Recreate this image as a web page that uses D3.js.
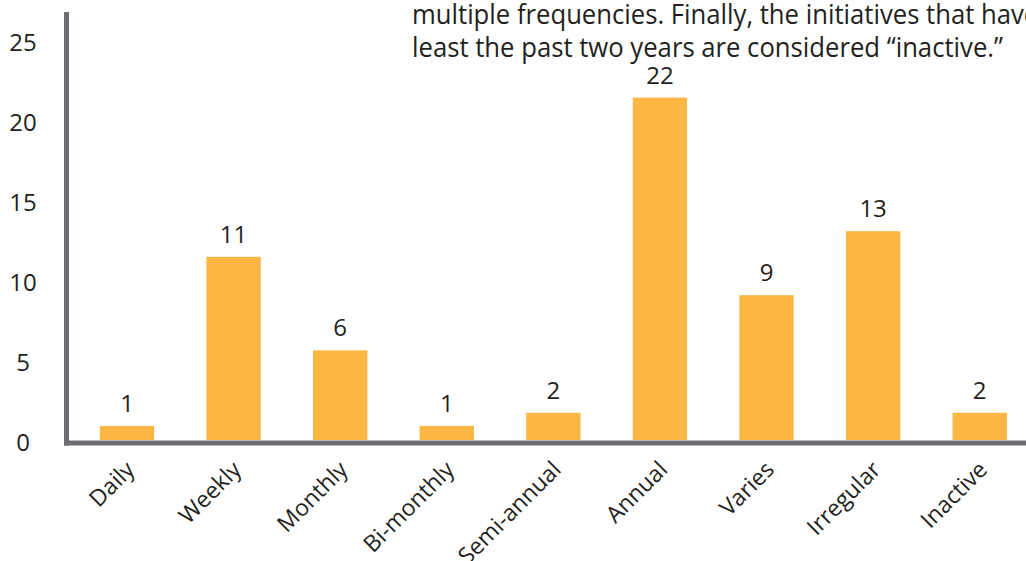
<!DOCTYPE html>
<html>
<head>
<meta charset="utf-8">
<title>Initiative frequency</title>
<script src="https://d3js.org/d3.v7.min.js"></script>
<style>
  body { margin: 0; background: #fff; }
  svg text { font-family: "Open Sans", sans-serif; fill: #231f20; }
</style>
</head>
<body>
<svg id="chart" width="1026" height="561"></svg>
<script>
// categories along the bottom
var categories = ["Daily", "Weekly", "Monthly", "Bi-monthly", "Semi-annual", "Annual", "Varies", "Irregular", "Inactive"];
// numbers printed above each bar
var counts = [1, 11, 6, 1, 2, 22, 9, 13, 2];
// bar heights as they are drawn against the axis
var barHeights = [0.88, 11.45, 5.6, 0.88, 1.7, 21.4, 9.05, 13.05, 1.7];
// y tick labels
var yTicks = [0, 5, 10, 15, 20, 25];
// text fragment at top right
var noteLines = [
  "multiple frequencies. Finally, the initiatives that have",
  "least the past two years are considered \u201cinactive.\u201d"
];

var svg = d3.select("#chart");

var x = d3.scaleBand()
    .domain(categories)
    .range([73.7, 1033])
    .paddingInner(0.49)
    .paddingOuter(0.245);

var y = d3.scaleLinear()
    .domain([0, 25])
    .range([440, 40]);

// bars
svg.selectAll("rect.bar")
    .data(categories)
    .enter()
    .append("rect")
        .attr("class", "bar")
        .attr("x", function(d) { return x(d); })
        .attr("width", x.bandwidth())
        .attr("y", function(d, i) { return y(barHeights[i]); })
        .attr("height", function(d, i) { return y(0) - y(barHeights[i]); })
        .attr("fill", "#fbb643");

// value labels
svg.selectAll("text.val")
    .data(categories)
    .enter()
    .append("text")
        .attr("class", "val")
        .attr("x", function(d) { return x(d) + x.bandwidth() / 2; })
        .attr("y", function(d, i) { return y(barHeights[i]) - 14; })
        .attr("text-anchor", "middle")
        .style("font-size", "24px")
        .text(function(d, i) { return counts[i]; });

// y tick labels
var yAxis = d3.axisLeft(y).tickValues(yTicks).tickSize(0).tickPadding(0);
var gy = svg.append("g").attr("transform", "translate(23,0)").call(yAxis);
gy.select(".domain").remove();
gy.selectAll("text")
    .attr("text-anchor", "middle")
    .attr("dy", "10px")
    .attr("fill", "#231f20")
    .style("font-family", "Open Sans, sans-serif")
    .style("font-size", "24px");

// category labels, rotated
var xAxis = d3.axisBottom(x).tickSize(0).tickPadding(0);
var gx = svg.append("g").call(xAxis);
gx.select(".domain").remove();
gx.selectAll(".tick text")
    .attr("text-anchor", "end")
    .attr("dy", 0)
    .attr("y", 0)
    .attr("transform", "translate(9,471) rotate(-45)")
    .attr("fill", "#231f20")
    .style("font-family", "Open Sans, sans-serif")
    .style("font-size", "23px");

// axis lines
svg.append("line")
    .attr("x1", 66.5).attr("x2", 66.5)
    .attr("y1", 12).attr("y2", 445.5)
    .attr("stroke", "#6d6e71").attr("stroke-width", 5);
svg.append("line")
    .attr("x1", 64).attr("x2", 1026)
    .attr("y1", 443).attr("y2", 443)
    .attr("stroke", "#6d6e71").attr("stroke-width", 5);

// note text, squeezed a little so the second line ends where it does in the original
var note = svg.append("g");
var noteText = note.selectAll("text.note")
    .data(noteLines)
    .enter()
    .append("text")
        .attr("class", "note")
        .attr("x", 0)
        .attr("y", function(d, i) { return 24 + i * 33.5; })
        .style("font-size", "28px")
        .text(function(d) { return d; });
var squeeze = 591 / noteText.nodes()[1].getComputedTextLength();
note.attr("transform", "translate(412,0) scale(" + squeeze + ",1)");
</script>
</body>
</html>
